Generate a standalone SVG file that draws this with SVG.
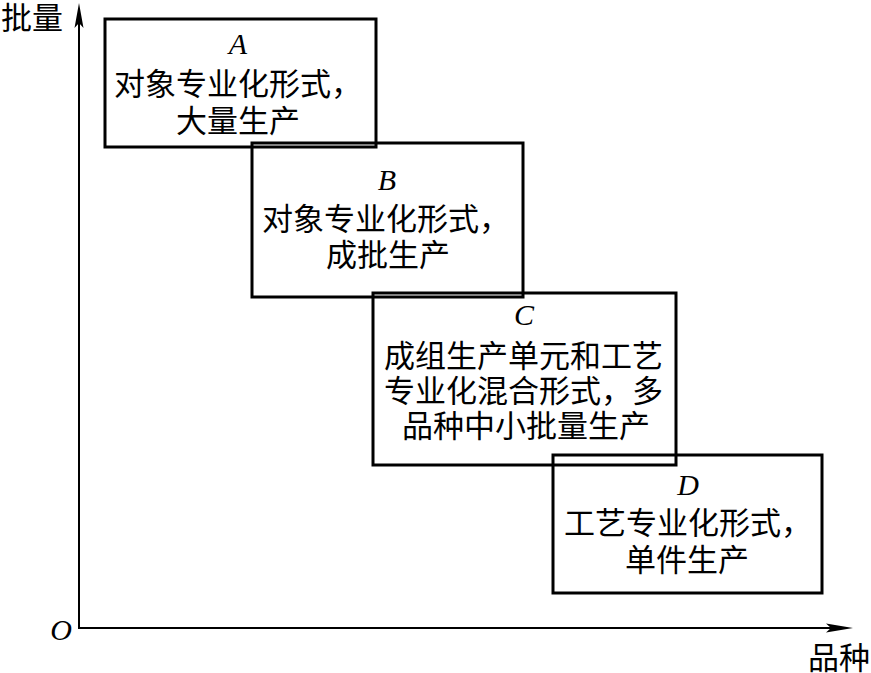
<svg xmlns="http://www.w3.org/2000/svg" width="871" height="673" viewBox="0 0 871 673">
<style>
.box{fill:none;stroke:#000;stroke-width:3}
.ax{stroke:#000;stroke-width:2;fill:none}
.cn{font-family:"Noto Sans CJK SC","Noto Sans",sans-serif;font-size:31px;fill:#000}
.lt{font-family:"Liberation Serif",serif;font-style:italic;font-size:30px;fill:#000;text-anchor:middle}
</style>
<rect width="871" height="673" fill="#fff"/>
<g id="axes">
<line class="ax" x1="79" y1="628" x2="79" y2="20"/>
<line class="ax" x1="78" y1="628" x2="835" y2="628"/>
<path d="M79,3 L83.5,28 L79,23 L74.5,28 Z" fill="#000"/>
<path d="M853,628 L826,623.5 L831,628 L826,632.5 Z" fill="#000"/>
<text class="cn" x="1" y="29">批量</text>
<text class="cn" x="808" y="669">品种</text>
<text class="lt" x="61" y="640">O</text>
</g>
<g id="nodeA">
<rect class="box" x="105" y="19" width="271" height="128"/>
<text class="lt" x="238" y="54">A</text>
<text class="cn" x="114" y="95">对象专业化形式，</text>
<text class="cn" x="176" y="132">大量生产</text>
</g>
<g id="nodeB">
<rect class="box" x="252" y="143" width="271" height="154"/>
<text class="lt" x="387" y="190">B</text>
<text class="cn" x="262" y="230">对象专业化形式，</text>
<text class="cn" x="326" y="266">成批生产</text>
</g>
<g id="nodeC">
<rect class="box" x="373" y="293" width="303" height="172"/>
<text class="lt" x="524" y="325">C</text>
<text class="cn" x="384" y="367">成组生产单元和工艺</text>
<text class="cn" x="384" y="402">专业化混合形式，多</text>
<text class="cn" x="402" y="437">品种中小批量生产</text>
</g>
<g id="nodeD">
<rect class="box" x="553" y="455" width="269" height="138"/>
<text class="lt" x="688" y="495">D</text>
<text class="cn" x="564" y="534">工艺专业化形式，</text>
<text class="cn" x="625" y="571">单件生产</text>
</g>
<g id="connectors"></g>
</svg>
